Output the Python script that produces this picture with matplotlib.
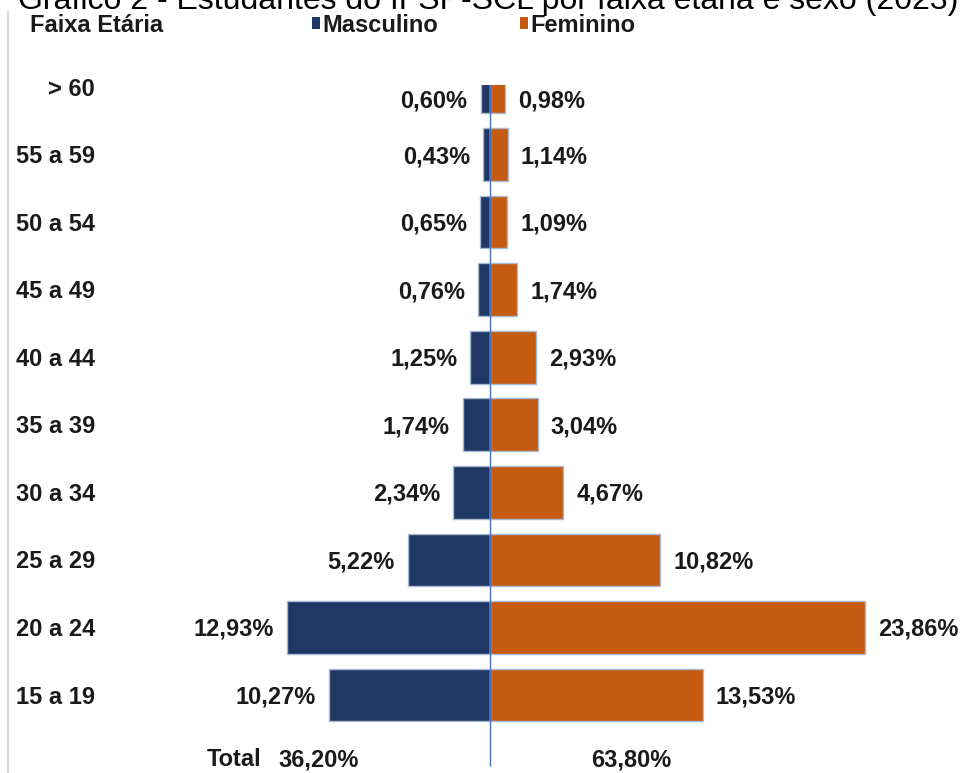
import matplotlib.pyplot as plt
from matplotlib.patches import Patch

plt.rcParams['font.family'] = ['Liberation Sans', 'DejaVu Sans']

faixas = ["15 a 19", "20 a 24", "25 a 29", "30 a 34", "35 a 39",
          "40 a 44", "45 a 49", "50 a 54", "55 a 59", "> 60"]
masculino = [10.27, 12.93, 5.22, 2.34, 1.74, 1.25, 0.76, 0.65, 0.43, 0.60]
feminino = [13.53, 23.86, 10.82, 4.67, 3.04, 2.93, 1.74, 1.09, 1.14, 0.98]
total_masc = 36.20
total_fem = 63.80

cor_masc = "#203864"
cor_fem = "#C55A11"
borda = "#A9B8D4"
txt = "#1A1A1A"

def pct(v):
    return f"{v:.2f}".replace(".", ",") + "%"

fig = plt.figure(figsize=(9.64, 7.73), dpi=100)
# eixo ocupa a largura toda; topo em 85 px (a primeira barra fica cortada)
ax = fig.add_axes([0, 0, 1, 1 - 85 / 773])
ax.set_xlim(-490 / 15.72, (964 - 490) / 15.72)
ymin, ymax = -78 / 67.56, 9 + 2 / 67.56
ax.set_ylim(ymin, ymax)
ax.axis("off")

h = 0.78
dy = -0.03  # pequeno ajuste vertical dos textos
y = list(range(len(faixas)))
ax.barh(y, [-m for m in masculino], height=h, color=cor_masc,
        edgecolor=borda, linewidth=1)
ax.barh(y, feminino, height=h, color=cor_fem,
        edgecolor=borda, linewidth=1)
ax.vlines(0, -1.05, ymax + 0.1, color="#4472C4", linewidth=1, zorder=5)

fs = 17
for i in y:
    # rótulo no meio da parte visível da barra
    yc = (min(i + h / 2, ymax) + (i - h / 2)) / 2 + dy
    ax.text(-masculino[i] - 0.83, yc, pct(masculino[i]), ha="right",
            va="center", fontsize=fs, fontweight="bold", color=txt)
    ax.text(feminino[i] + 0.83, yc, pct(feminino[i]), ha="left",
            va="center", fontsize=fs, fontweight="bold", color=txt)
    ax.text(95 / 964, (i + dy - ymin) / (ymax - ymin), faixas[i],
            transform=ax.transAxes, ha="right", va="center",
            fontsize=fs, fontweight="bold", color=txt, clip_on=False)

# linha de total
ax.text(-16.3, -0.93 + dy, "Total", ha="center", va="center", fontsize=fs,
        fontweight="bold", color=txt)
ax.text(-10.9, -0.93 + dy, pct(total_masc), ha="center", va="center",
        fontsize=fs, fontweight="bold", color=txt)
ax.text(9.0, -0.93 + dy, pct(total_fem), ha="center", va="center",
        fontsize=fs, fontweight="bold", color=txt)

fig.text(30 / 964, 1 - 25 / 773, "Faixa Etária", ha="left", va="center",
         fontsize=fs, fontweight="bold", color=txt)
handles = [Patch(facecolor=cor_masc, edgecolor="none", label="Masculino"),
           Patch(facecolor=cor_fem, edgecolor="none", label="Feminino")]
fig.legend(handles=handles, loc="center left",
           bbox_to_anchor=(312 / 964, 1 - 25 / 773), ncol=2, frameon=False,
           handlelength=0.35, handleheight=0.35, handletextpad=0.1,
           columnspacing=3.45, borderpad=0, borderaxespad=0,
           labelcolor=txt, prop={"size": fs, "weight": "bold"})

fig.text(0.506, 1 - 9 / 773,
         "Gráfico 2 - Estudantes do IFSP-SCL por faixa etária e sexo (2023)",
         ha="center", va="baseline", fontsize=23, color="#000000")

fig.add_artist(plt.Line2D([8 / 964, 8 / 964], [0, 1 - 12 / 773],
                          color="#D9D9D9", linewidth=1.5))

fig.savefig("out.png", dpi=100)
